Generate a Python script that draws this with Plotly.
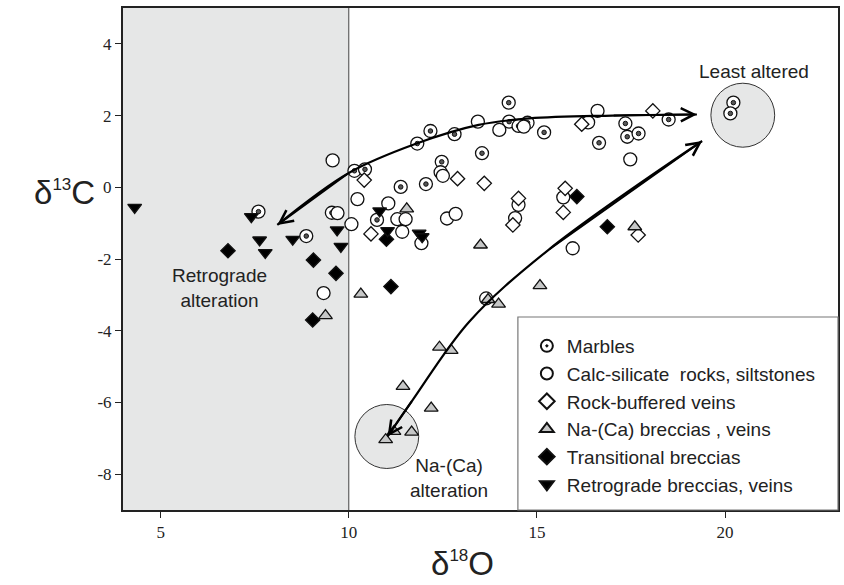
import plotly.graph_objects as go

# --- sample groups: delta18O (x) and delta13C (y) ---
marbles_x = [7.6, 8.87, 9.55, 10.15, 10.43, 11.38, 12.05, 10.75, 12.47, 11.82, 12.17, 12.81,
             13.54, 14.25, 14.26, 14.51, 14.75, 15.19, 16.65, 17.35, 17.4, 17.7, 18.5, 20.22, 20.14]
marbles_y = [-0.68, -1.36, -0.71, 0.46, 0.5, 0.01, 0.09, -0.91, 0.71, 1.22, 1.57, 1.48,
             0.95, 2.36, 1.83, 1.71, 1.8, 1.53, 1.24, 1.78, 1.41, 1.5, 1.89, 2.36, 2.06]

calc_x = [9.57, 9.7, 10.23, 11.05, 10.07, 11.29, 11.51, 11.42, 11.93, 12.44, 12.5, 12.61, 12.84,
          13.43, 14.0, 14.65, 16.36, 16.61, 17.48, 14.51, 14.42, 15.7, 15.95, 9.33, 13.65]
calc_y = [0.75, -0.72, -0.33, -0.45, -1.03, -0.89, -0.89, -1.24, -1.56, 0.42, 0.32, -0.87, -0.74,
          1.83, 1.6, 1.69, 1.81, 2.13, 0.78, -0.49, -0.86, -0.28, -1.7, -2.95, -3.1]

rockbuf_x = [10.41, 12.89, 10.59, 13.6, 14.51, 14.36, 15.75, 15.7, 16.19, 18.08, 17.69]
rockbuf_y = [0.2, 0.24, -1.3, 0.11, -0.31, -1.05, -0.03, -0.7, 1.76, 2.13, -1.33]

naca_x = [11.54, 9.38, 10.32, 13.5, 17.6, 15.08, 13.7, 13.98, 12.41, 12.72, 11.44, 12.19,
          10.98, 11.2, 11.67]
naca_y = [-0.6, -3.58, -2.98, -1.61, -1.1, -2.74, -3.13, -3.26, -4.46, -4.55, -5.55, -6.16,
          -7.04, -6.81, -6.83]

trans_x = [6.79, 9.06, 9.66, 9.04, 11.0, 11.12, 16.06, 16.87]
trans_y = [-1.77, -2.03, -2.4, -3.7, -1.45, -2.77, -0.26, -1.1]

retro_x = [4.31, 7.41, 7.63, 7.78, 8.51, 9.69, 9.79, 10.82, 11.03, 11.87, 11.95]
retro_y = [-0.56, -0.82, -1.47, -1.82, -1.45, -1.19, -1.65, -0.66, -1.21, -1.28, -1.38]

# --- alteration trend paths ---
retro_path_x = [19.25, 17.0, 14.8, 13.45, 11.8, 10.0, 8.1]
retro_path_y = [2.03, 2.0, 1.92, 1.74, 1.22, 0.4, -1.05]

naca_path_x = [19.39, 15.3, 13.2, 11.7, 11.03]
naca_path_y = [1.29, -1.75, -3.75, -5.93, -6.95]

# --- reference fields ---
field_names = ["Least altered", "Na-(Ca)"]
field_cx = [20.47, 11.01]
field_cy = [2.01, -6.95]

x_ticks = [5, 10, 15, 20]
y_ticks = [-8, -6, -4, -2, 0, 2, 4]
y_ticktext = ["-8", "-6", "-4", "-2", "0", "2", "4"]

X_RANGE = [4, 23]
Y_RANGE = [-9, 5]
MARGIN = dict(l=123, r=4, t=8, b=75)
W, H = 844, 585

plot_w = W - MARGIN["l"] - MARGIN["r"]
plot_h = H - MARGIN["t"] - MARGIN["b"]
px_per_x = plot_w / (X_RANGE[1] - X_RANGE[0])
px_per_y = plot_h / (Y_RANGE[1] - Y_RANGE[0])

fig = go.Figure()

edge = dict(color="#111", width=1.3)
groups = [
    ("Marbles", marbles_x, marbles_y, "circle-dot", 13, "white"),
    ("Calc-silicate  rocks, siltstones", calc_x, calc_y, "circle", 13, "white"),
    ("Rock-buffered veins", rockbuf_x, rockbuf_y, "diamond", 11, "white"),
    ("Na-(Ca) breccias , veins", naca_x, naca_y, "triangle-up", 12, "#c6c7c7"),
    ("Transitional breccias", trans_x, trans_y, "diamond", 11, "black"),
    ("Retrograde breccias, veins", retro_x, retro_y, "triangle-down", 12, "black"),
]
for name, xs, ys, sym, size, fill in groups:
    fig.add_trace(go.Scatter(
        x=xs, y=ys, mode="markers", name=name,
        marker=dict(symbol=sym, size=size, color=fill, line=edge),
    ))
    if name == "Marbles":
        # central dot of the marble symbol
        fig.add_trace(go.Scatter(
            x=xs, y=ys, mode="markers", showlegend=False, hoverinfo="skip",
            marker=dict(symbol="circle", size=4.5, color="#555", line=dict(color="#111", width=1)),
        ))

for px_, py_ in [(retro_path_x, retro_path_y), (naca_path_x, naca_path_y)]:
    fig.add_trace(go.Scatter(
        x=px_, y=py_, mode="lines", showlegend=False, hoverinfo="skip",
        line=dict(color="black", width=2.2, shape="spline", smoothing=1.0),
    ))

shapes = [
    # retrograde field shading (delta18O < 10)
    dict(type="rect", xref="x", yref="y", x0=X_RANGE[0], x1=10, y0=Y_RANGE[0], y1=Y_RANGE[1],
         fillcolor="#e6e7e7", line=dict(width=0), layer="below"),
    dict(type="line", xref="x", yref="y", x0=10, x1=10, y0=Y_RANGE[0], y1=Y_RANGE[1],
         line=dict(color="#444", width=1), layer="below"),
]
r_px = 32
for cx, cy in zip(field_cx, field_cy):
    rx, ry = r_px / px_per_x, r_px / px_per_y
    shapes.append(dict(type="circle", xref="x", yref="y", x0=cx - rx, x1=cx + rx,
                       y0=cy - ry, y1=cy + ry, fillcolor="#e6e7e7",
                       line=dict(color="#333", width=1), layer="below"))
# legend frame
shapes.append(dict(type="rect", xref="paper", yref="paper",
                   x0=(519 - MARGIN["l"]) / plot_w, x1=1,
                   y0=0, y1=(510 - 317) / plot_h,
                   fillcolor="white", line=dict(color="#777", width=1.2), layer="above"))

label_font = dict(family="Liberation Sans, Arial, sans-serif", size=19, color="#222")
annotations = [
    dict(x=20.76, y=3.24, xref="x", yref="y", text="Least altered", showarrow=False, font=label_font),
    dict(x=6.57, y=-2.8, xref="x", yref="y", text="Retrograde<br>alteration", showarrow=False,
         font=label_font),
    dict(x=12.66, y=-8.1, xref="x", yref="y", text="Na-(Ca)<br>alteration", showarrow=False,
         font=label_font),
]
# arrow heads at the path ends
heads = [
    (retro_path_x[0], retro_path_y[0], retro_path_x[1], retro_path_y[1]),
    (retro_path_x[-1], retro_path_y[-1], retro_path_x[-2], retro_path_y[-2]),
    (naca_path_x[0], naca_path_y[0], naca_path_x[1], naca_path_y[1]),
    (naca_path_x[-1], naca_path_y[-1], naca_path_x[-2], naca_path_y[-2]),
]
for tx, ty, fx, fy in heads:
    annotations.append(dict(x=tx, y=ty, ax=fx, ay=fy, xref="x", yref="y", axref="x", ayref="y",
                            text="", showarrow=True, arrowhead=5, arrowsize=1.3,
                            arrowwidth=2, arrowcolor="rgba(0,0,0,1)", standoff=0,
                            startstandoff=0))

title_font = dict(family="Liberation Sans, Arial, sans-serif", size=33, color="#222")
annotations.append(dict(x=(463 - MARGIN["l"]) / plot_w, y=(510 - 563) / plot_h,
                        xref="paper", yref="paper", xanchor="center", yanchor="middle",
                        text='δ<sup><span style="font-size:17px">18</span></sup>O',
                        showarrow=False, font=title_font))
annotations.append(dict(x=(64 - MARGIN["l"]) / plot_w, y=(510 - 192) / plot_h,
                        xref="paper", yref="paper", xanchor="center", yanchor="middle",
                        text='δ<sup><span style="font-size:17px">13</span></sup>C',
                        showarrow=False, font=title_font))

tick_font = dict(family="Liberation Serif, Times New Roman, serif", size=17, color="#222")
axis_common = dict(showgrid=False, zeroline=False, showline=True, linecolor="#222",
                   linewidth=2, mirror=True, ticks="outside", ticklen=6, tickwidth=1.2,
                   tickcolor="#222", tickfont=tick_font)

fig.update_layout(
    width=W, height=H, margin=MARGIN,
    paper_bgcolor="white", plot_bgcolor="white",
    xaxis=dict(range=X_RANGE, tickvals=x_ticks, **axis_common),
    yaxis=dict(range=Y_RANGE, tickvals=y_ticks, ticktext=y_ticktext, **axis_common),
    shapes=shapes, annotations=annotations,
    legend=dict(x=(528 - MARGIN["l"]) / plot_w, xanchor="left",
                y=(510 - 327) / plot_h, yanchor="top",
                bgcolor="rgba(0,0,0,0)", borderwidth=0,
                font=dict(family="Liberation Sans, Arial, sans-serif", size=19, color="#222"),
                itemsizing="constant"),
    showlegend=True,
)

fig.write_html("out.html")
